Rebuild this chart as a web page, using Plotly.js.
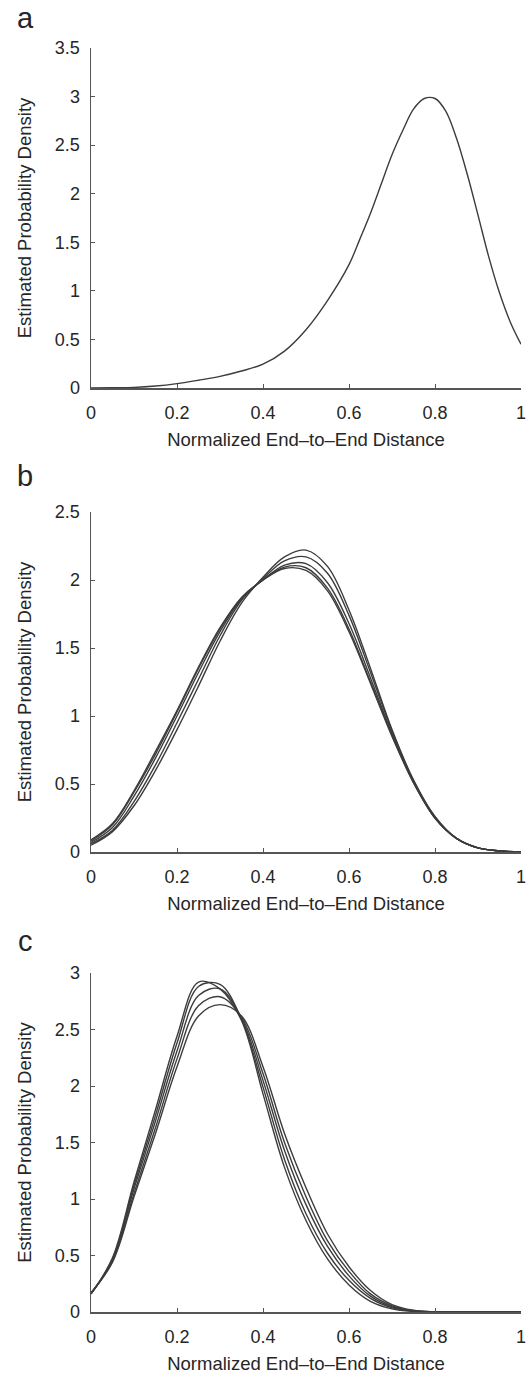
<!DOCTYPE html>
<html>
<head>
<meta charset="utf-8">
<script src="https://cdn.plot.ly/plotly-3.0.1.min.js"></script>
<style>
  html, body { margin: 0; padding: 0; background: #fff; }
  #chart { width: 532px; height: 1376px; }
</style>
</head>
<body>
<div id="chart"></div>
<script>
// ---------- Data ----------
const panelLabels = ["a", "b", "c"];
const xTitle = "Normalized End\u2013to\u2013End Distance";
const yTitle = "Estimated Probability Density";

// Panel a
const aX = [0, 0.05, 0.1, 0.15, 0.2, 0.25, 0.3, 0.35, 0.4, 0.45, 0.5, 0.55, 0.6, 0.625, 0.65, 0.675, 0.7, 0.725, 0.75, 0.775, 0.8, 0.825, 0.85, 0.875, 0.9, 0.925, 0.95, 0.975, 1];
const aY = [0, 0.002, 0.006, 0.02, 0.045, 0.08, 0.12, 0.175, 0.245, 0.38, 0.6, 0.9, 1.27, 1.53, 1.8, 2.1, 2.4, 2.65, 2.87, 2.98, 2.98, 2.85, 2.57, 2.2, 1.78, 1.35, 0.98, 0.68, 0.45];

// Panel b
const bX = [0, 0.05, 0.1, 0.15, 0.2, 0.25, 0.3, 0.35, 0.4, 0.45, 0.5, 0.55, 0.6, 0.65, 0.7, 0.75, 0.8, 0.85, 0.9, 0.95, 1];
const b1 = [0.05, 0.15, 0.34, 0.60, 0.90, 1.22, 1.55, 1.83, 2.02, 2.17, 2.22, 2.10, 1.78, 1.35, 0.90, 0.53, 0.26, 0.10, 0.03, 0.007, 0];
const b2 = [0.06, 0.16, 0.37, 0.64, 0.95, 1.27, 1.59, 1.85, 2.01, 2.14, 2.17, 2.05, 1.74, 1.32, 0.89, 0.52, 0.26, 0.10, 0.03, 0.007, 0];
const b3 = [0.07, 0.18, 0.41, 0.69, 1.00, 1.32, 1.62, 1.86, 2.00, 2.11, 2.12, 1.98, 1.68, 1.28, 0.87, 0.52, 0.25, 0.10, 0.03, 0.008, 0];
const b4 = [0.08, 0.20, 0.44, 0.72, 1.03, 1.35, 1.64, 1.87, 2.00, 2.095, 2.09, 1.94, 1.64, 1.25, 0.86, 0.51, 0.25, 0.10, 0.03, 0.008, 0];
const b5 = [0.09, 0.21, 0.45, 0.74, 1.04, 1.36, 1.65, 1.87, 2.00, 2.085, 2.07, 1.92, 1.62, 1.24, 0.85, 0.51, 0.25, 0.10, 0.03, 0.008, 0];

// Panel c
const cX = [0, 0.05, 0.1, 0.15, 0.2, 0.25, 0.3, 0.35, 0.4, 0.45, 0.5, 0.55, 0.6, 0.65, 0.7, 0.75, 0.8, 0.85, 0.9, 0.95, 1];
const c1 = [0.16, 0.48, 1.15, 1.79, 2.44, 2.92, 2.86, 2.58, 1.93, 1.28, 0.81, 0.47, 0.24, 0.095, 0.028, 0.005, 0, 0, 0, 0, 0];
const c2 = [0.16, 0.47, 1.12, 1.74, 2.38, 2.88, 2.90, 2.59, 1.99, 1.35, 0.87, 0.52, 0.28, 0.12, 0.037, 0.007, 0, 0, 0, 0, 0];
const c3 = [0.16, 0.46, 1.09, 1.69, 2.31, 2.80, 2.86, 2.60, 2.05, 1.43, 0.95, 0.58, 0.32, 0.14, 0.045, 0.009, 0.001, 0, 0, 0, 0];
const c4 = [0.17, 0.45, 1.05, 1.63, 2.24, 2.71, 2.79, 2.61, 2.11, 1.50, 1.02, 0.63, 0.36, 0.16, 0.055, 0.012, 0.001, 0, 0, 0, 0];
const c5 = [0.17, 0.44, 1.02, 1.58, 2.17, 2.62, 2.72, 2.62, 2.17, 1.58, 1.10, 0.69, 0.40, 0.19, 0.065, 0.015, 0.002, 0, 0, 0, 0];

// Axis ranges
const aRange = [0, 3.5];
const bRange = [0, 2.5];
const cRange = [0, 3];

// ---------- Styling ----------
const W = 532, H = 1376;
const FONT = "Liberation Sans, Arial, Helvetica, sans-serif";
const TEXT = "#262626";
const LINE = "#3c3c3c";
const AXIS = "#555555";

function px2x(p) { return p / W; }
function px2y(p) { return 1 - p / H; }

const xDom = [px2x(91), px2x(521)];

function trace(x, y, xa, ya) {
  return {
    x: x, y: y, xaxis: xa, yaxis: ya, type: "scatter", mode: "lines",
    line: { color: LINE, width: 1.4, shape: "spline", smoothing: 1 },
    hoverinfo: "skip", showlegend: false
  };
}

const data = [
  trace(aX, aY, "x", "y"),
  trace(bX, b1, "x2", "y2"), trace(bX, b2, "x2", "y2"), trace(bX, b3, "x2", "y2"),
  trace(bX, b4, "x2", "y2"), trace(bX, b5, "x2", "y2"),
  trace(cX, c1, "x3", "y3"), trace(cX, c2, "x3", "y3"), trace(cX, c3, "x3", "y3"),
  trace(cX, c4, "x3", "y3"), trace(cX, c5, "x3", "y3")
];

function xAxis(anchor) {
  return {
    domain: xDom, anchor: anchor, range: [0, 1], dtick: 0.2, tick0: 0,
    showgrid: false, zeroline: false, showline: true, linecolor: AXIS, linewidth: 1.5,
    ticks: "inside", ticklen: 4, tickcolor: AXIS, tickwidth: 1,
    tickfont: { family: FONT, size: 18, color: TEXT },
    ticklabelstandoff: 8,
    title: { text: xTitle, font: { family: FONT, size: 18.5, color: TEXT }, standoff: 11 },
    fixedrange: true
  };
}
function yAxis(anchor, range, top, bottom) {
  return {
    domain: [px2y(bottom), px2y(top)], anchor: anchor, range: range, dtick: 0.5, tick0: 0,
    showgrid: false, zeroline: false, showline: true, linecolor: AXIS, linewidth: 1.5,
    ticks: "inside", ticklen: 4, tickcolor: AXIS, tickwidth: 1,
    tickfont: { family: FONT, size: 18, color: TEXT },
    ticklabelstandoff: 6,
    title: { text: yTitle, font: { family: FONT, size: 18.5, color: TEXT }, standoff: 18 },
    fixedrange: true
  };
}

const layout = {
  width: W, height: H,
  margin: { l: 0, r: 0, t: 0, b: 0 },
  paper_bgcolor: "#fff", plot_bgcolor: "#fff",
  font: { family: FONT, color: TEXT },
  xaxis: xAxis("y"), yaxis: yAxis("x", aRange, 48, 388),
  xaxis2: xAxis("y2"), yaxis2: yAxis("x2", bRange, 512, 852),
  xaxis3: xAxis("y3"), yaxis3: yAxis("x3", cRange, 973, 1312),
  annotations: [
    { text: panelLabels[0], x: px2x(25), y: 1 },
    { text: panelLabels[1], x: px2x(25), y: px2y(458) },
    { text: panelLabels[2], x: px2x(25), y: px2y(923) }
  ].map(a => Object.assign(a, {
    xref: "paper", yref: "paper", showarrow: false, xanchor: "center", yanchor: "top",
    font: { family: FONT, size: 29, color: TEXT }
  }))
};

Plotly.newPlot("chart", data, layout, { displayModeBar: false, staticPlot: true });
</script>
</body>
</html>
